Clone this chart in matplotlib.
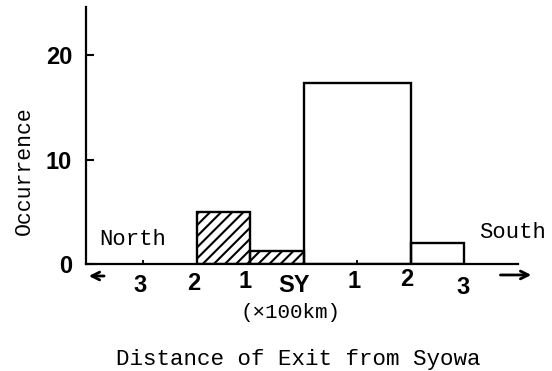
import matplotlib

matplotlib.use("Agg")
import matplotlib.pyplot as plt
import matplotlib.transforms as mtransforms

# histogram of exit distance from Syowa (units of 100 km, north negative)
bin_left = [-2, -1, 0, 2]
bin_width = [1, 1, 2, 1]
occurrence = [5.0, 1.2, 17.3, 2.0]
bin_hatch = ["///", "///", "", ""]

x_ticks = [-3, -2, -1, 0, 1, 2, 3]
x_tick_labels = ["3", "2", "1", "SY", "1", "2", "3"]
y_ticks = [0, 10, 20]

# small hand-lettering offsets of the x labels (pixels)
label_dx = [-3, -3, -5, -10, -3, -4, -1]
label_dy = [-21, -20, -18, -21, -18, -16, -23]

mono = "Liberation Mono"
sans = "Liberation Sans"
plt.rcParams["hatch.linewidth"] = 1.5

fig = plt.figure(figsize=(5.52, 3.71), dpi=100)
ax = fig.add_axes([86 / 552, 107 / 371, 432 / 552, 257 / 371])

bars = ax.bar(bin_left, occurrence, width=bin_width, align="edge",
              fill=False, edgecolor="black", linewidth=1.7)
for bar, h in zip(bars, bin_hatch):
    bar.set_hatch(h)

ax.set_xlim(-4.07, 4.0)
ax.set_ylim(0, 24.6)

for side in ["top", "right"]:
    ax.spines[side].set_visible(False)
for side in ["left", "bottom"]:
    ax.spines[side].set_linewidth(1.6)

ax.set_yticks(y_ticks)
ax.set_yticklabels([str(v) for v in y_ticks], fontfamily=sans,
                   fontweight="bold", fontsize=17)
ax.tick_params(axis="y", direction="in", length=6, width=1.5, pad=10)

ax.set_xticks(x_ticks)
ax.set_xticklabels([])
ax.tick_params(axis="x", direction="in", length=3, width=1.3)

base = ax.get_xaxis_transform()
for x, lab, dx, dy in zip(x_ticks, x_tick_labels, label_dx, label_dy):
    off = mtransforms.ScaledTranslation(dx / 100, dy / 100, fig.dpi_scale_trans)
    ax.text(x, 0, lab, transform=base + off, ha="center", va="center",
            fontfamily=sans, fontweight="bold", fontsize=17)

# direction arrows under the axis
ax.annotate("", xy=(-4.07, -1.15), xytext=(-3.68, -1.15),
            arrowprops=dict(arrowstyle="->", lw=2, color="black",
                            mutation_scale=14),
            annotation_clip=False)
ax.annotate("", xy=(4.3, -1.05), xytext=(3.62, -1.05),
            arrowprops=dict(arrowstyle="->", lw=2, color="black",
                            mutation_scale=14),
            annotation_clip=False)

ax.text(-3.2, 2.3, "North", fontfamily=mono, fontsize=16,
        ha="center", va="center")
ax.text(3.9, 3.05, "South", fontfamily=mono, fontsize=16,
        ha="center", va="center")

fig.text(291 / 552, 1 - 312 / 371, "(\u00d7100km)", fontfamily=mono,
         fontsize=15, ha="center", va="center")
fig.text(298 / 552, 1 - 360 / 371, "Distance of Exit from Syowa",
         fontfamily=mono, fontsize=16.2, ha="center", va="center")
fig.text(24 / 552, 1 - 171 / 371, "Occurrence", fontfamily=mono,
         fontsize=15.5, rotation=90, ha="center", va="center")

fig.savefig("out.png", dpi=100)
